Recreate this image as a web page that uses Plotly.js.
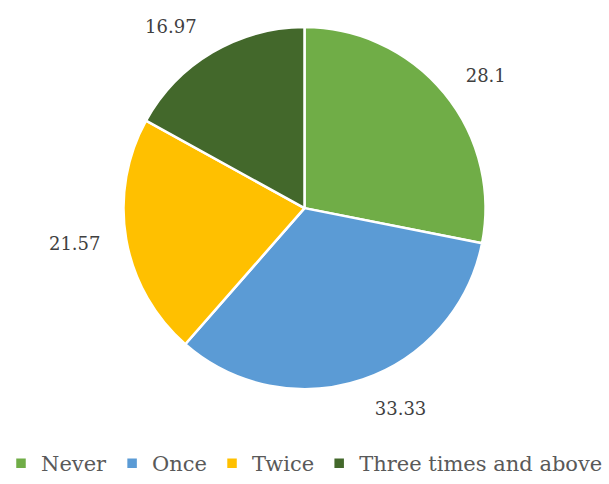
<!DOCTYPE html>
<html><head><meta charset="utf-8">
<script src="https://cdn.plot.ly/plotly-3.0.1.min.js"></script>
<style>html,body{margin:0;padding:0;background:#fff}#chart{width:609px;height:484px}</style>
</head><body><div id="chart"></div>
<script>
const categories = ["Never", "Once", "Twice", "Three times and above"];
const values = [28.1, 33.33, 21.57, 16.97];
const colors = ["#70AD47", "#5B9BD5", "#FFC000", "#43682B"];

const labelFont = {family: "DejaVu Serif", size: 18, color: "#404040"};
const data = [{
  type: "pie",
  labels: categories,
  values: values,
  textinfo: "none",
  sort: false,
  direction: "clockwise",
  rotation: 0,
  marker: {colors: colors, line: {color: "#ffffff", width: 2.5}},
  hoverinfo: "label+value",
  domain: {x: [0.05, 0.95], y: [0.196, 0.944]}
}, {
  type: "pie",
  labels: categories,
  values: values,
  text: values.map(v => String(v)),
  textinfo: "text",
  textposition: "outside",
  sort: false,
  direction: "clockwise",
  rotation: 0,
  showlegend: false,
  marker: {colors: colors.map(() => "rgba(0,0,0,0)"), line: {width: 0}},
  outsidetextfont: labelFont,
  hoverinfo: "skip",
  domain: {x: [0.05, 0.95], y: [0.153, 0.987]}
}];
const layout = {
  width: 609, height: 484,
  margin: {l: 0, r: 0, t: 0, b: 0},
  paper_bgcolor: "#fff",
  showlegend: true,
  legend: {orientation: "h", x: 0.5, xanchor: "center", y: 0, yanchor: "bottom",
    font: {family: "DejaVu Serif", size: 21, color: "#595959"}, itemwidth: 30, traceorder: "normal"}
};
Plotly.newPlot("chart", data, layout, {displayModeBar: false});
</script></body></html>
